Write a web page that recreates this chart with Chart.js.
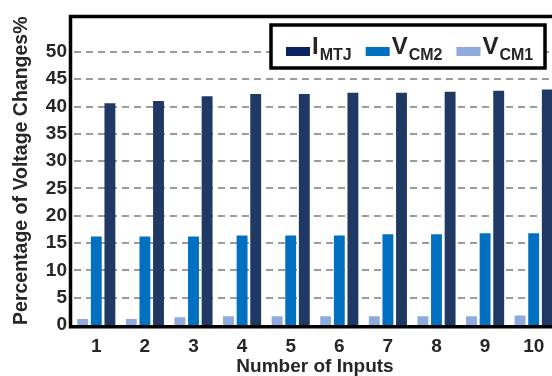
<!DOCTYPE html>
<html>
<head>
<meta charset="utf-8">
<script src="https://cdn.jsdelivr.net/npm/chart.js@4/dist/chart.umd.min.js"></script>
<style>
  html, body { margin: 0; padding: 0; overflow: hidden; background: #ffffff; }
  canvas { display: block; }
</style>
</head>
<body>
<canvas id="chart" width="560" height="376"></canvas>
<script>
// Number of inputs on the x axis
const categories = ['1', '2', '3', '4', '5', '6', '7', '8', '9', '10'];

// Percentage of voltage change for each monitored quantity
const vcm1 = [1.1, 1.1, 1.4, 1.6, 1.6, 1.6, 1.6, 1.6, 1.6, 1.75];
const vcm2 = [16.2, 16.2, 16.2, 16.4, 16.4, 16.4, 16.6, 16.6, 16.8, 16.8];
const imtj = [40.6, 41.0, 41.9, 42.3, 42.3, 42.5, 42.5, 42.7, 42.9, 43.1];

// Y axis tick values
const yTicks = [0, 5, 10, 15, 20, 25, 30, 35, 40, 45, 50];

// Legend text: main letter plus subscript
const legendMain = ['V', 'V', 'I'];
const legendSub = ['CM1', 'CM2', 'MTJ'];

const textColor = '#262626';
const fontFamily = '"Liberation Sans", Arial, sans-serif';

// Dashed horizontal grid lines at each y tick (except the baseline)
const dashedGridPlugin = {
  id: 'dashedGrid',
  beforeDatasetsDraw(chart) {
    const { ctx, chartArea: a, scales } = chart;
    const y = scales.y;
    const dash = 7, gap = 5;
    ctx.save();
    ctx.fillStyle = '#9C9C9C';
    yTicks.forEach((v) => {
      if (v === 0) return;
      const py = Math.round(y.getPixelForValue(v));
      for (let x = a.left + 2; x < a.right; x += dash + gap) {
        ctx.fillRect(Math.round(x), py - 1, Math.min(dash, a.right - x), 2);
      }
    });
    ctx.restore();
  }
};

// Thick black frame around the plot area
const framePlugin = {
  id: 'frame',
  afterDatasetsDraw(chart) {
    const { ctx, chartArea: a } = chart;
    ctx.save();
    ctx.strokeStyle = '#000000';
    ctx.lineWidth = 3.5;
    ctx.beginPath();
    ctx.moveTo(a.right + 20, a.top);
    ctx.lineTo(a.left - 1.5, a.top);
    ctx.lineTo(a.left - 1.5, a.bottom + 1.8);
    ctx.lineTo(a.right + 20, a.bottom + 1.8);
    ctx.stroke();
    ctx.restore();
  }
};

// Boxed legend with subscripted series names, listed in reverse dataset order
const subLegendPlugin = {
  id: 'subLegend',
  afterDraw(chart) {
    const { ctx } = chart;
    const box = { x: 271, y: 25, w: 274, h: 43 };
    ctx.save();
    ctx.fillStyle = '#ffffff';
    ctx.fillRect(box.x, box.y, box.w, box.h);
    ctx.strokeStyle = '#000000';
    ctx.lineWidth = 3.5;
    ctx.strokeRect(box.x, box.y, box.w, box.h);

    let x = 286;
    const baseline = 54;
    const order = chart.data.datasets.map((d, i) => i).reverse();
    order.forEach((i) => {
      const ds = chart.data.datasets[i];
      ctx.fillStyle = ds.legendColor || ds.backgroundColor;
      ctx.fillRect(x, 47, 24, 9);
      x += 26;
      ctx.fillStyle = textColor;
      ctx.textBaseline = 'alphabetic';
      ctx.textAlign = 'left';
      ctx.font = 'bold 24px ' + fontFamily;
      ctx.fillText(legendMain[i], x, baseline);
      x += ctx.measureText(legendMain[i]).width + 1;
      ctx.font = 'bold 16px ' + fontFamily;
      ctx.fillText(legendSub[i], x, baseline + 6);
      x += ctx.measureText(legendSub[i]).width + 14;
    });
    ctx.restore();
  }
};

new Chart(document.getElementById('chart'), {
  type: 'bar',
  data: {
    labels: categories,
    datasets: [
      { label: 'VCM1', data: vcm1, backgroundColor: '#8FAADC' },
      { label: 'VCM2', data: vcm2, backgroundColor: '#0070C0' },
      { label: 'IMTJ', data: imtj, backgroundColor: '#203864', legendColor: '#0B2361' }
    ]
  },
  options: {
    responsive: false,
    animation: false,
    devicePixelRatio: 1,
    layout: { padding: { top: 12, right: 2, bottom: 0, left: 0 } },
    datasets: {
      bar: { categoryPercentage: 0.84, barPercentage: 0.8 }
    },
    plugins: {
      legend: { display: false },
      tooltip: { enabled: false }
    },
    scales: {
      x: {
        afterFit(scale) { scale.height = 51; },
        grid: { display: false },
        border: { display: false },
        ticks: {
          color: textColor,
          padding: 2,
          font: { family: fontFamily, size: 19, weight: 'bold' }
        },
        title: {
          display: true,
          text: 'Number of Inputs',
          color: textColor,
          padding: 0,
          font: { family: fontFamily, size: 19, weight: 'bold', lineHeight: 1.0 }
        }
      },
      y: {
        min: 0,
        max: 56.5,
        afterFit(scale) { scale.width = 72; },
        afterBuildTicks(scale) { scale.ticks = yTicks.map((v) => ({ value: v })); },
        grid: { display: false, drawTicks: false },
        border: { display: false },
        ticks: {
          color: textColor,
          padding: 5,
          font: { family: fontFamily, size: 19, weight: 'bold' }
        },
        title: {
          display: true,
          text: 'Percentage of Voltage Changes%',
          color: textColor,
          padding: { top: 10, bottom: 0 },
          font: { family: fontFamily, size: 19.5, weight: 'bold' }
        }
      }
    }
  },
  plugins: [dashedGridPlugin, framePlugin, subLegendPlugin]
});
</script>
</body>
</html>
